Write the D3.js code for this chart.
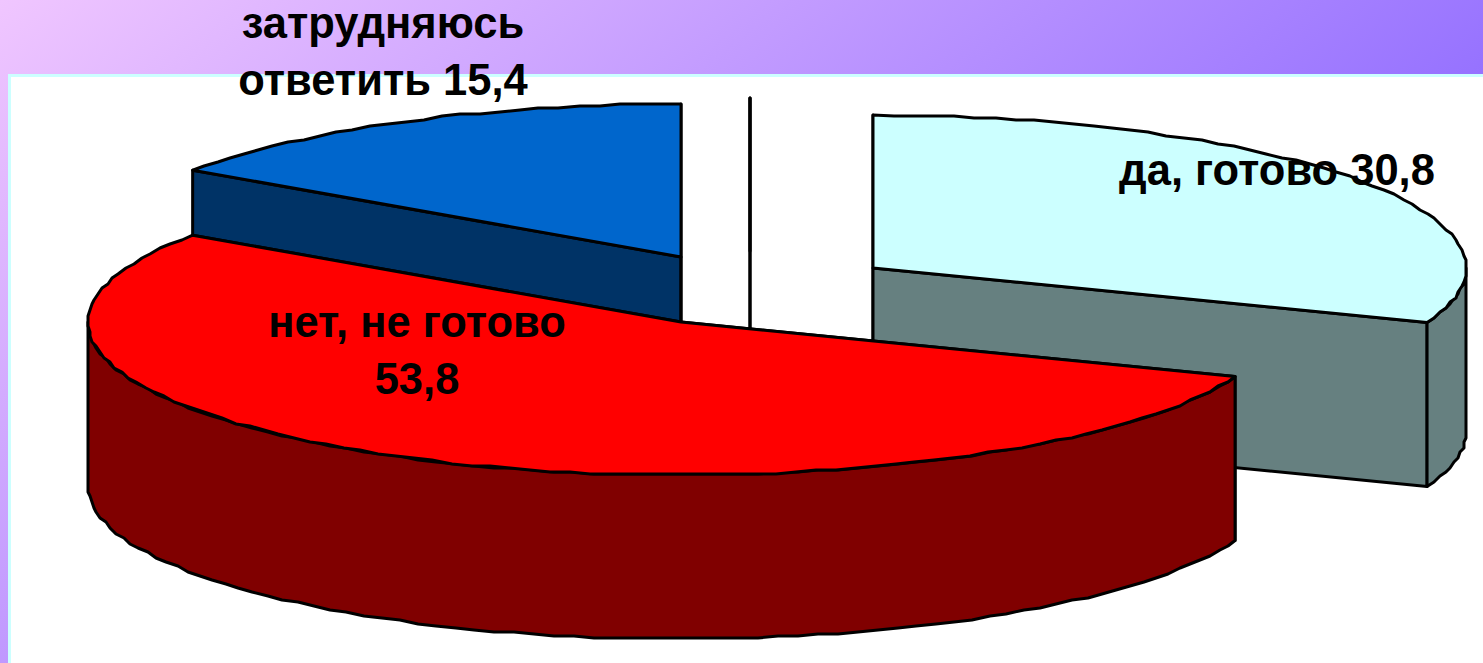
<!DOCTYPE html>
<html>
<head>
<meta charset="utf-8">
<script src="https://cdn.jsdelivr.net/npm/d3@7"></script>
<style>
  html, body { margin: 0; padding: 0; background: #fff; overflow: hidden; }
  text { font-family: "Liberation Sans", Arial, sans-serif; font-weight: bold; font-size: 43.5px; fill: #000; }
</style>
</head>
<body>
<svg id="chart" width="1483" height="663"></svg>
<script>
// the last, empty category has no share: it only shows up as the thin vertical line
const categories = ["да, готово", "нет, не готово", "затрудняюсь ответить", ""]
const values = [30.8, 53.8, 15.4, 0]
const topColors = ["#ccffff", "#ff0000", "#0066cc", "none"]
const wallColors = ["#668080", "#800000", "#003366", "none"]

const width = 1483, height = 663
const rx = 593, ry = 153, depth = 164

// exploded centre of every slice, and the order they get painted in (back to front)
const centers = [[873, 268], [681, 322], [681, 257], [750, 251]]
const paintOrder = [3, 2, 0, 1]

const svg = d3.select("#chart")

const defs = svg.append("defs")
const grad = defs.append("linearGradient")
  .attr("id", "bg")
  .attr("gradientUnits", "userSpaceOnUse")
  .attr("x1", 0).attr("y1", 0).attr("x2", 598).attr("y2", 765)
grad.append("stop").attr("offset", 0).attr("stop-color", "#f0c6ff")
grad.append("stop").attr("offset", 1).attr("stop-color", "#9672ff")

svg.append("rect").attr("width", width).attr("height", height).attr("fill", "url(#bg)")
svg.append("rect").attr("x", 8).attr("y", 74).attr("width", width).attr("height", height).attr("fill", "#ccffff")
svg.append("rect").attr("x", 11).attr("y", 77).attr("width", width).attr("height", height).attr("fill", "#fff")

const slices = d3.pie().sort(null)(values)

// the curve in the original is a coarse polygon, so sample and snap instead of using a smooth arc
const snap = v => Math.round(v / 2) * 2
const ellipsePoint = (c, a, dy = 0) => [c[0] + rx * Math.sin(a), c[1] - ry * Math.cos(a) + dy]

function arcPoints(c, a0, a1, dy = 0) {
  const n = Math.max(1, Math.ceil(Math.abs(a1 - a0) / (2 * Math.PI / 180)))
  return d3.range(n + 1).map(i => {
    const p = ellipsePoint(c, a0 + (a1 - a0) * i / n, dy)
    return i === 0 || i === n ? p : [snap(p[0]), snap(p[1])]
  })
}

const line = d3.line()
const closed = pts => line(pts) + "Z"

const g = svg.append("g")
  .attr("stroke", "#000")
  .attr("stroke-width", 3)
  .attr("stroke-linejoin", "round")

paintOrder.forEach(i => {
  const s = slices[i], c = centers[i]
  const sliceG = g.append("g")

  // radial walls
  ;[s.startAngle, s.endAngle].forEach(a => {
    const p = ellipsePoint(c, a)
    sliceG.append("path")
      .attr("d", closed([c, p, [p[0], p[1] + depth], [c[0], c[1] + depth]]))
      .attr("fill", wallColors[i])
  })

  // outer wall, only the part that faces the viewer
  const a0 = Math.max(s.startAngle, Math.PI / 2)
  const a1 = Math.min(s.endAngle, 3 * Math.PI / 2)
  if (a1 > a0) {
    const up = arcPoints(c, a0, a1)
    const down = arcPoints(c, a1, a0, depth)
    sliceG.append("path").attr("d", closed(up.concat(down))).attr("fill", wallColors[i])
  }

  // top face
  sliceG.append("path")
    .attr("d", closed([c].concat(arcPoints(c, s.startAngle, s.endAngle))))
    .attr("fill", topColors[i])
})

const fmt = v => d3.format(".1f")(v).replace(".", ",")

const labelLines = [
  [{ t: categories[0] + " " + fmt(values[0]), x: 1277, y: 185 }],
  [{ t: categories[1], x: 417, y: 337 }, { t: fmt(values[1]), x: 417, y: 394 }],
  [{ t: categories[2].split(" ")[0], x: 383, y: 38 }, { t: categories[2].split(" ")[1] + " " + fmt(values[2]), x: 383, y: 95 }]
]

svg.append("g").selectAll("text")
  .data(labelLines.flat())
  .join("text")
  .attr("x", d => d.x)
  .attr("y", d => d.y)
  .attr("text-anchor", "middle")
  .text(d => d.t)
</script>
</body>
</html>
